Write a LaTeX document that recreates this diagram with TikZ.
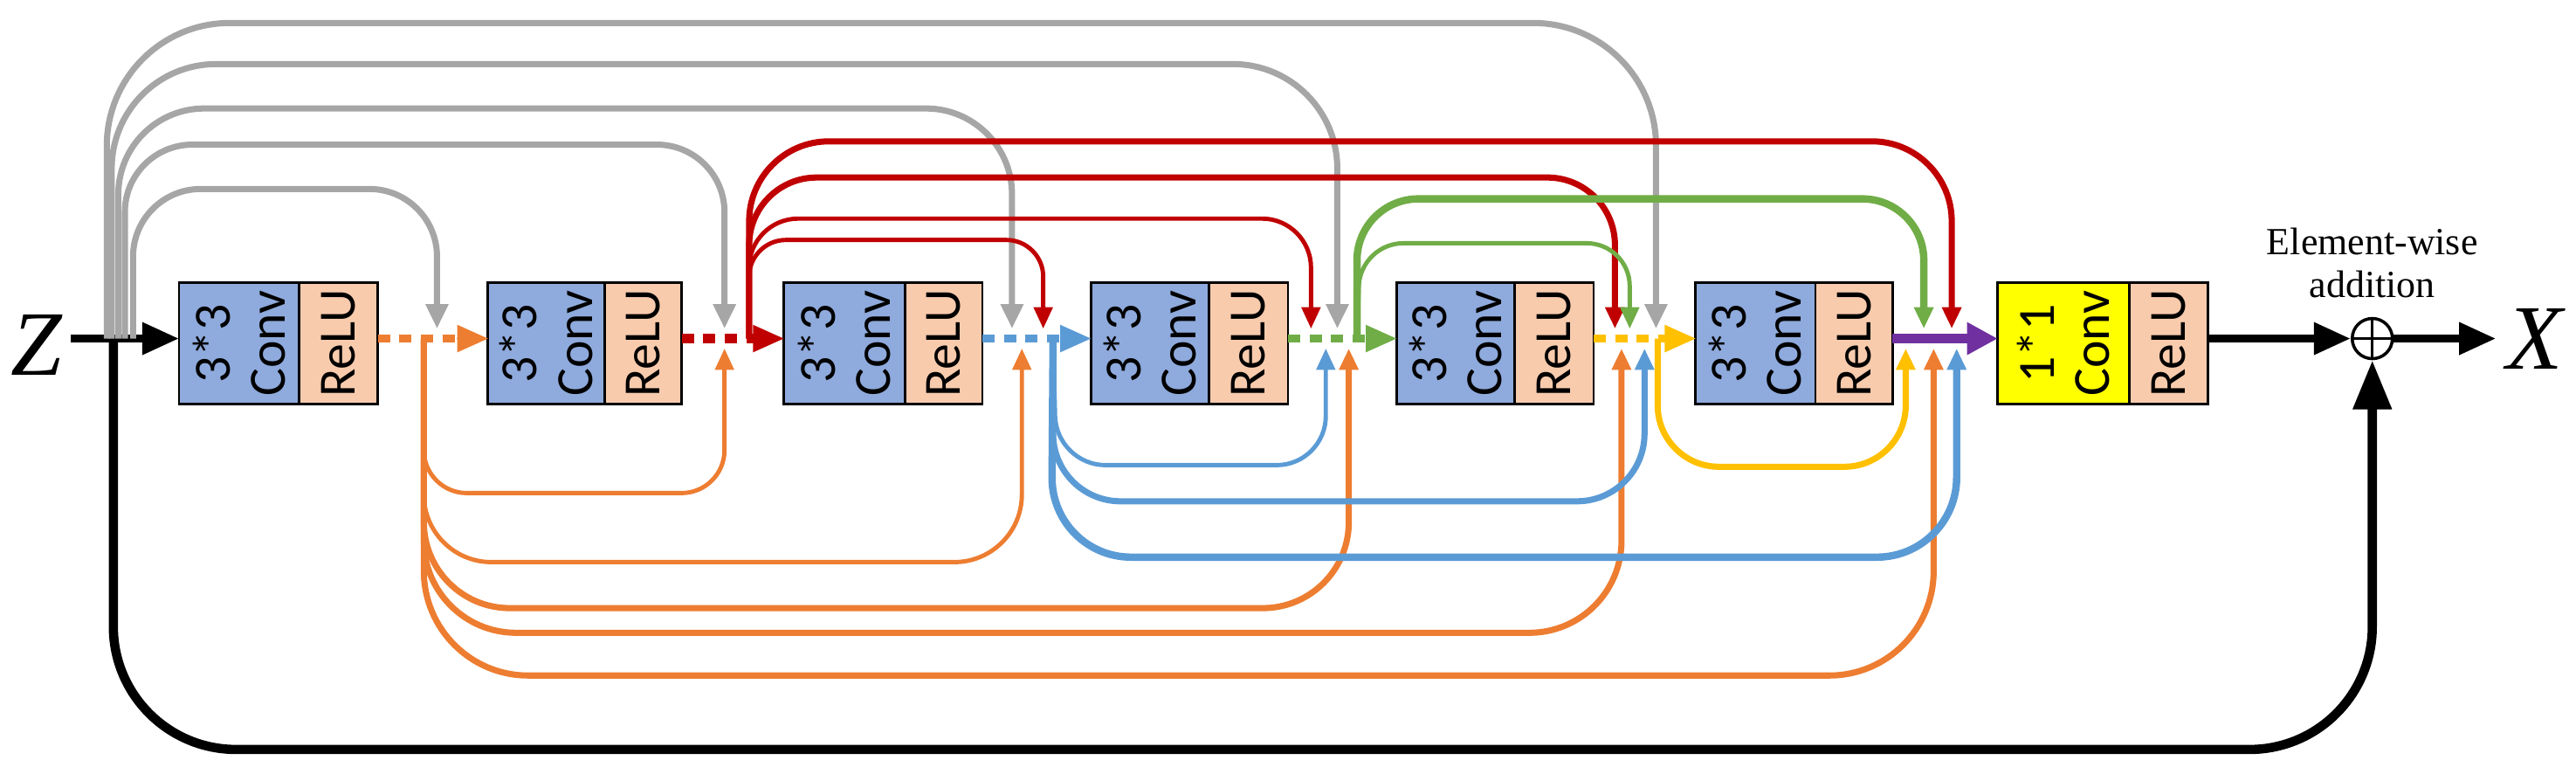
\documentclass[tikz,border=0pt]{standalone}
\usepackage{fontspec}
\setmainfont{Liberation Serif}
\newfontfamily\blkfont{Carlito}
\usetikzlibrary{arrows.meta}
\definecolor{cgray}{HTML}{A6A6A6}
\definecolor{corange}{HTML}{ED7D31}
\definecolor{cred}{HTML}{C00000}
\definecolor{cblue}{HTML}{5B9BD5}
\definecolor{cgreen}{HTML}{70AD47}
\definecolor{cyellow}{HTML}{FFC000}
\definecolor{cpurple}{HTML}{7030A0}
\definecolor{convblue}{HTML}{8FAADC}
\definecolor{relu}{HTML}{F8CBAD}
\definecolor{yconv}{HTML}{FFFF00}
\begin{document}
\begin{tikzpicture}[x=0.018814cm,y=-0.018814cm,
  tip/.style={-{Triangle[length=7pt,width=6pt]}},
  bigtip/.style={-{Triangle[length=10pt,width=9pt]}},
  skip/.style={tip,line width=1.4pt,rounded corners=14pt},
  thick skip/.style={tip,line width=2pt,rounded corners=16pt},
  dots/.style={line width=2.4pt,dash pattern=on 4pt off 3pt},
  blk/.style={draw=black,line width=0.8pt},
  btxt/.style={rotate=90,align=center,font=\blkfont\fontsize{17}{18}\selectfont,inner sep=0pt},
  blackline/.style={line width=2.6pt,-{Triangle[length=12pt,width=10pt]}}]
\useasboundingbox (0,0) rectangle (1568,475);
% blocks
\newcommand\mkblock[6]{%
  \path[blk,fill=#5] (#2,172) rectangle (#3,246);
  \path[blk,fill=relu] (#3,172) rectangle (#4,246);
  \node[btxt] (#1c) at ({(#2+#3)/2},209) {#6};
  \node[btxt] (#1r) at ({(#3+#4)/2},209) {ReLU};
  \coordinate (#1L) at (#2,206);
  \coordinate (#1R) at (#4,206);}
\mkblock{b1}{109}{182}{230}{convblue}{3*3\\Conv}
\mkblock{b2}{297}{368}{415}{convblue}{3*3\\Conv}
\mkblock{b3}{477}{551}{598}{convblue}{3*3\\Conv}
\mkblock{b4}{664}{736}{784}{convblue}{3*3\\Conv}
\mkblock{b5}{850}{922}{970}{convblue}{3*3\\Conv}
\mkblock{b6}{1032}{1105}{1152}{convblue}{3*3\\Conv}
\mkblock{b7}{1216}{1296}{1344}{yconv}{1*1\\Conv}
% labels
\node[font=\itshape\fontsize{30}{30}\selectfont,anchor=east,inner sep=1pt] (Z) at (40,210) {Z};
\node[font=\itshape\fontsize{30}{30}\selectfont] (X) at (1543,206) {X};
\node[circle,draw,line width=1pt,inner sep=0pt,minimum size=0.46cm] (sum) at (1444,206) {};
\draw[line width=0.8pt] (sum.north)--(sum.south) (sum.west)--(sum.east);
\node[align=center,font=\fontsize{12.5}{14}\selectfont] (lab) at (1444,160) {Element-wise\\addition};
% junction coordinates
\coordinate (zs) at (43,206);
\coordinate (zj) at (69,206);
\coordinate (oj) at (258,206);
\coordinate (rj) at (456,206);
\coordinate (blj) at (641,206);
\coordinate (gj) at (826,206);
\coordinate (yj) at (1009,206);
% main line
\draw[blackline] (zs) -- (b1L);
\draw[blackline] (b7R) -- (sum.west);
\draw[blackline] (sum.east) -- (X.west);
\draw[line width=3pt,rounded corners=40pt,-{Triangle[length=16pt,width=12pt]}] (zj) -- (69,456) -- (1444,456) -- (sum.south);
\draw[dots,corange] (b1R) -- (285,206); \draw[bigtip,corange,line width=0pt] (284,206)--(b2L);
\draw[dots,cred,line width=3pt] (b2R) -- (460,206); \draw[bigtip,cred,line width=0pt] (462,206)--(b3L);
\draw[dots,cblue] (b3R) -- (652,206); \draw[bigtip,cblue,line width=0pt] (651,206)--(b4L);
\draw[dots,cgreen] (b4R) -- (838,206); \draw[bigtip,cgreen,line width=0pt] (837,206)--(b5L);
\draw[dots,cyellow] (b5R) -- (1020,206); \draw[bigtip,cyellow,line width=0pt] (1019,206)--(b6L);
\draw[cpurple,line width=3pt,-{Triangle[length=10pt,width=10pt]}] (b6R) -- (b7L);
% gray
\coordinate (g1) at (81,206);
\coordinate (g2) at (76,206);
\coordinate (g3) at (72,206);
\coordinate (g4) at (68,206);
\coordinate (g5) at (65,206);
\begin{scope}[cgray,line width=2pt,rounded corners=22pt,-{Triangle[length=8pt,width=7pt]}]
\draw (g1) -- (81,115) -- (266,115) -- (266,200);
\draw (g2) -- (76,88) -- (441,88) -- (441,200);
\draw[rounded corners=28pt] (g3) -- (72,66) -- (616,66) -- (616,200);
\draw[rounded corners=34pt] (g4) -- (68,39) -- (814,39) -- (814,200);
\draw[rounded corners=40pt] (g5) -- (65,14) -- (1008,14) -- (1008,200);
\end{scope}
% orange
\begin{scope}[corange]
\draw[skip] (oj) -- (258,300) -- (441,300) -- (441,212);
\draw[skip,rounded corners=22pt] (oj) -- (258,342) -- (622,342) -- (622,212);
\draw[thick skip,rounded corners=28pt] (oj) -- (258,370) -- (821,370) -- (821,212);
\draw[thick skip,rounded corners=30pt] (oj) -- (258,385) -- (987,385) -- (987,212);
\draw[thick skip,rounded corners=34pt] (oj) -- (258,411) -- (1177,411) -- (1177,212);
\end{scope}
% red
\begin{scope}[cred]
\draw[skip,rounded corners=12pt] (rj) -- (456,146) -- (635,146) -- (635,200);
\draw[skip,rounded corners=16pt] (rj) -- (456,133) -- (798,133) -- (798,200);
\draw[thick skip,rounded corners=22pt] (rj) -- (456,108) -- (983,108) -- (983,200);
\draw[thick skip,rounded corners=26pt] (rj) -- (456,86) -- (1188,86) -- (1188,200);
\end{scope}
% blue
\begin{scope}[cblue]
\draw[skip,rounded corners=16pt] (blj) -- (643,283) -- (807,283) -- (807,212);
\draw[thick skip,rounded corners=22pt] (blj) -- (641,305) -- (1001,305) -- (1001,212);
\draw[thick skip,line width=2.4pt,rounded corners=26pt] (blj) -- (640,339) -- (1191,339) -- (1191,212);
\end{scope}
% green
\begin{scope}[cgreen]
\draw[skip,rounded corners=14pt] (gj) -- (828,148) -- (992,148) -- (992,200);
\draw[thick skip,line width=2.4pt,rounded corners=20pt] (gj) -- (826,121) -- (1171,121) -- (1171,200);
\end{scope}
% yellow
\draw[cyellow,thick skip,rounded corners=20pt] (yj) -- (1009,284) -- (1160,284) -- (1160,212);
\end{tikzpicture}
\end{document}
